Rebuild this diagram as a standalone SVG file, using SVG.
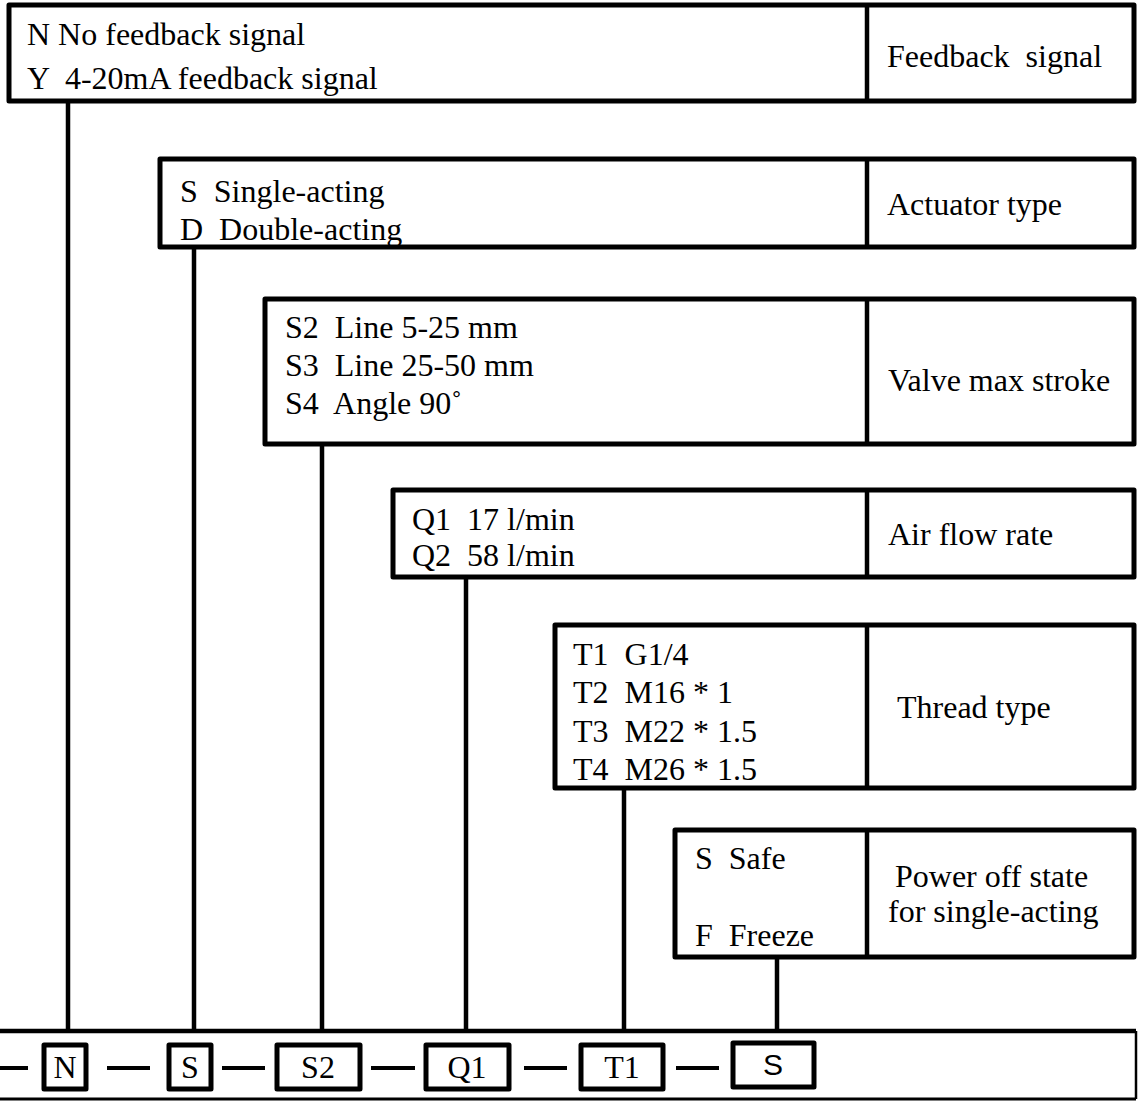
<svg xmlns="http://www.w3.org/2000/svg" width="1139" height="1101" viewBox="0 0 1139 1101">
<style>
.box{fill:#fff;stroke:#000;stroke-width:5;stroke-linejoin:round}
.div{stroke:#000;stroke-width:4.5}
.con{stroke:#000;stroke-width:4.5;fill:none}
.t{font-family:"Liberation Serif","Times New Roman",serif;font-size:32px;fill:#000}
.c{text-anchor:middle}
.sans{font-family:"Liberation Sans",Arial,sans-serif;font-size:30px;fill:#000;text-anchor:middle}
.dash{stroke:#000;stroke-width:4}
</style>
<rect width="1139" height="1101" fill="#fff"/>
<g id="connectors">
<line class="con" x1="68" y1="101" x2="68" y2="1031"/>
<line class="con" x1="194" y1="247" x2="194" y2="1031"/>
<line class="con" x1="322" y1="444" x2="322" y2="1031"/>
<line class="con" x1="466" y1="577" x2="466" y2="1031"/>
<line class="con" x1="624" y1="788" x2="624" y2="1031"/>
<line class="con" x1="777" y1="957" x2="777" y2="1031"/>
</g>
<g id="feedback">
<rect class="box" x="9" y="5" width="1125" height="96"/>
<line class="div" x1="867" y1="5" x2="867" y2="101"/>
<text class="t" x="27" y="45">N No feedback signal</text>
<text class="t" x="27" y="89" xml:space="preserve">Y  4-20mA feedback signal</text>
<text class="t" x="887" y="67" xml:space="preserve">Feedback  signal</text>
</g>
<g id="actuator">
<rect class="box" x="160" y="159" width="974" height="88"/>
<line class="div" x1="867" y1="159" x2="867" y2="247"/>
<text class="t" x="180" y="202" xml:space="preserve">S  Single-acting</text>
<text class="t" x="180" y="240" xml:space="preserve">D  Double-acting</text>
<text class="t" x="887" y="215">Actuator type</text>
</g>
<g id="valve">
<rect class="box" x="265" y="299" width="869" height="145"/>
<line class="div" x1="867" y1="299" x2="867" y2="444"/>
<text class="t" x="285" y="338" xml:space="preserve">S2  Line 5-25 mm</text>
<text class="t" x="285" y="376" xml:space="preserve">S3  Line 25-50 mm</text>
<text class="t" x="285" y="414" xml:space="preserve">S4  Angle 90˚</text>
<text class="t" x="888" y="391">Valve max stroke</text>
</g>
<g id="airflow">
<rect class="box" x="393" y="490" width="741" height="87"/>
<line class="div" x1="867" y1="490" x2="867" y2="577"/>
<text class="t" x="412" y="530" xml:space="preserve">Q1  17 l/min</text>
<text class="t" x="412" y="566" xml:space="preserve">Q2  58 l/min</text>
<text class="t" x="888" y="545">Air flow rate</text>
</g>
<g id="thread">
<rect class="box" x="555" y="625" width="579" height="163"/>
<line class="div" x1="867" y1="625" x2="867" y2="788"/>
<text class="t" x="573" y="665" xml:space="preserve">T1  G1/4</text>
<text class="t" x="573" y="703" xml:space="preserve">T2  M16 * 1</text>
<text class="t" x="573" y="742" xml:space="preserve">T3  M22 * 1.5</text>
<text class="t" x="573" y="780" xml:space="preserve">T4  M26 * 1.5</text>
<text class="t" x="897" y="718">Thread type</text>
</g>
<g id="power">
<rect class="box" x="675" y="830" width="459" height="127"/>
<line class="div" x1="867" y1="830" x2="867" y2="957"/>
<text class="t" x="695" y="869" xml:space="preserve">S  Safe</text>
<text class="t" x="695" y="946" xml:space="preserve">F  Freeze</text>
<text class="t" x="895" y="887">Power off state</text>
<text class="t" x="888" y="922">for single-acting</text>
</g>
<g id="code">
<line x1="-5" y1="1031" x2="1136" y2="1031" stroke="#000" stroke-width="4.5"/>
<line x1="-5" y1="1099" x2="1136" y2="1099" stroke="#000" stroke-width="3"/>
<line x1="1136" y1="1031" x2="1136" y2="1099" stroke="#000" stroke-width="2.5"/>
<line class="dash" x1="0" y1="1068" x2="28" y2="1068"/>
<line class="dash" x1="107" y1="1068" x2="150" y2="1068"/>
<line class="dash" x1="222" y1="1068" x2="265" y2="1068"/>
<line class="dash" x1="371" y1="1068" x2="415" y2="1068"/>
<line class="dash" x1="524" y1="1068" x2="567" y2="1068"/>
<line class="dash" x1="676" y1="1068" x2="719" y2="1068"/>
</g>
<g id="code-N">
<rect class="box" x="44" y="1045" width="42" height="44"/>
<text class="t c" x="65" y="1078">N</text>
</g>
<g id="code-S">
<rect class="box" x="169" y="1045" width="42" height="44"/>
<text class="t c" x="190" y="1078">S</text>
</g>
<g id="code-S2">
<rect class="box" x="277" y="1045" width="83" height="44"/>
<text class="t c" x="318" y="1078">S2</text>
</g>
<g id="code-Q1">
<rect class="box" x="426" y="1045" width="83" height="44"/>
<text class="t c" x="467" y="1078">Q1</text>
</g>
<g id="code-T1">
<rect class="box" x="581" y="1045" width="82" height="44"/>
<text class="t c" x="622" y="1078">T1</text>
</g>
<g id="code-S-power">
<rect class="box" x="733" y="1043" width="81" height="44"/>
<text class="sans" x="773" y="1075">S</text>
</g>
</svg>
